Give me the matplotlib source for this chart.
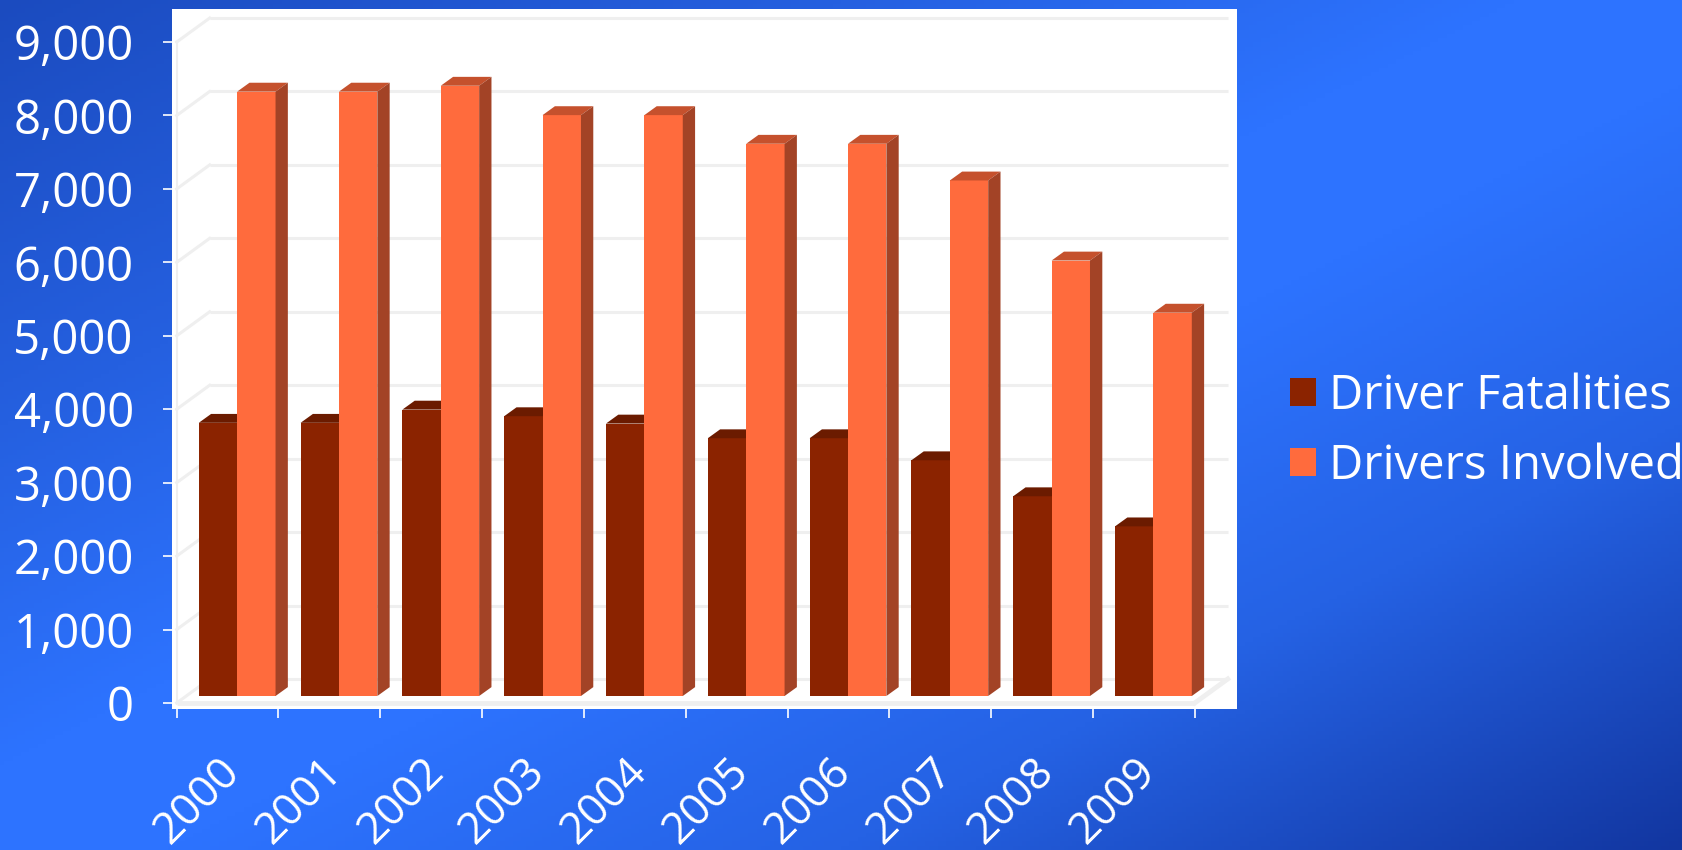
import numpy as np
import matplotlib
matplotlib.use("Agg")
import matplotlib.pyplot as plt
from matplotlib.patches import Polygon, Rectangle
import matplotlib.transforms as mtransforms
from matplotlib.ticker import FuncFormatter, FixedLocator

# ---- data ----
years = ['2000', '2001', '2002', '2003', '2004', '2005', '2006', '2007', '2008', '2009']
driver_fatalities = [3720, 3720, 3900, 3810, 3710, 3510, 3510, 3210, 2720, 2310]
drivers_involved = [8230, 8230, 8310, 7910, 7910, 7520, 7520, 7020, 5930, 5220]
series_names = ['Driver Fatalities', 'Drivers Involved']
y_ticks = [0, 1000, 2000, 3000, 4000, 5000, 6000, 7000, 8000, 9000]

# ---- style ----
plt.rcParams['font.family'] = ['Open Sans', 'DejaVu Sans']
W, H, DPI = 1682, 850, 100
FS = 34
FS_X = 32

dark_front, dark_top = '#8B2300', '#6B1B00'
or_front, or_top, or_side = '#FF6B3D', '#C5512D', '#A34326'
grid_col = '#EFEFEF'

# 3D projection parameters (data units)
DX, DY = 0.324, 327          # full depth of the chart box
BDX, BDY = 0.094, 95         # front plane of the bars
DDX, DDY = 0.121, 121        # depth of a bar
BW = 0.377                   # width of a bar

fig = plt.figure(figsize=(W / DPI, H / DPI), dpi=DPI)

# background gradient
bg = fig.add_axes([0, 0, 1, 1], zorder=-10)
xx, yy = np.meshgrid(np.linspace(0, 1, 400), np.linspace(0, 1, 200))
t = (xx + yy) / 2
stops = [0.0, 0.25, 0.45, 0.55, 0.75, 1.0]
cols = np.array([[0x1b, 0x4b, 0xbf], [0x25, 0x60, 0xe0], [0x2d, 0x73, 0xff],
                 [0x2d, 0x73, 0xff], [0x25, 0x62, 0xe4], [0x12, 0x36, 0xa0]]) / 255.0
img = np.stack([np.interp(t, stops, cols[:, k]) for k in range(3)], axis=-1)
bg.imshow(img, aspect='auto', extent=[0, 1, 0, 1], origin='upper')
bg.set_axis_off()

# main axes (white chart box)
ax = fig.add_axes([172 / W, (H - 709) / H, (1237 - 172) / W, (709 - 9) / H])
ax.set_facecolor('white')
n = len(years)
ax.set_xlim(-0.546, 9.915)
ax.set_ylim(-82, 9450)
for s in ax.spines.values():
    s.set_visible(False)

# walls / gridlines
x_left, x_right = -0.5, n - 0.5
for v in y_ticks:
    ax.plot([x_left + DX, x_right + DX], [v + DY, v + DY], color=grid_col, lw=2.2, zorder=1,
            solid_capstyle='butt')
    ax.plot([x_left, x_left + DX], [v, v + DY], color=grid_col, lw=2.2, zorder=1)
ax.plot([x_left, x_left], [0, y_ticks[-1]], color=grid_col, lw=1.5, zorder=1)
ax.plot([x_left, x_right], [0, 0], color=grid_col, lw=3.5, zorder=1, solid_capstyle='butt')
ax.plot([x_right, x_right + DX], [0, DY], color=grid_col, lw=3.5, zorder=1)

# bars
idx = np.arange(n)
dark_x = idx + BDX - BW
or_x = idx + BDX
ax.bar(dark_x, driver_fatalities, width=BW, bottom=BDY, align='edge', color=dark_front,
       edgecolor='none', zorder=3)
ax.bar(or_x, drivers_involved, width=BW, bottom=BDY, align='edge', color=or_front,
       edgecolor='none', zorder=5)
for i in range(n):
    x0 = dark_x[i]; x1 = x0 + BW; top = BDY + driver_fatalities[i]
    ax.add_patch(Polygon([(x0, top), (x1, top), (x1 + DDX, top + DDY), (x0 + DDX, top + DDY)],
                         closed=True, facecolor=dark_top, edgecolor='none', zorder=3))
    x0 = or_x[i]; x1 = x0 + BW; top = BDY + drivers_involved[i]
    ax.add_patch(Polygon([(x0, top), (x1, top), (x1 + DDX, top + DDY), (x0 + DDX, top + DDY)],
                         closed=True, facecolor=or_top, edgecolor='none', zorder=5))
    ax.add_patch(Polygon([(x1, BDY), (x1, top), (x1 + DDX, top + DDY), (x1 + DDX, BDY + DDY)],
                         closed=True, facecolor=or_side, edgecolor='none', zorder=5))

# y axis ticks
ax.set_yticks(y_ticks)
ax.yaxis.set_major_formatter(FuncFormatter(lambda v, p: f'{int(v):,}'))
ax.tick_params(axis='y', direction='out', length=6.5, width=1.2, color='white',
               labelcolor='white', labelsize=FS, pad=21)

# x axis ticks: marks at category boundaries, labels at centres
ax.xaxis.set_major_locator(FixedLocator(idx))
ax.set_xticklabels(years, rotation=45, ha='right', va='baseline', rotation_mode='anchor')
ax.xaxis.set_minor_locator(FixedLocator(np.arange(n + 1) - 0.5))
ax.tick_params(axis='x', which='major', length=0, labelcolor='white', labelsize=FS_X, pad=46)
ax.tick_params(axis='x', which='minor', direction='out', length=6.5, width=1.2, color='white')
offset = mtransforms.ScaledTranslation(14 / DPI, 0, fig.dpi_scale_trans)
for lab in ax.get_xticklabels():
    lab.set_transform(lab.get_transform() + offset)

# legend
handles = [Rectangle((0, 0), 1, 1, facecolor=dark_front, edgecolor='none'),
           Rectangle((0, 0), 1, 1, facecolor=or_front, edgecolor='none')]
leg = fig.legend(handles, series_names, loc='center left', bbox_to_anchor=(1290 / W, 1 - 431 / H),
                 frameon=False, fontsize=FS, handlelength=0.55, handleheight=0.55,
                 handletextpad=0.28, borderpad=0, borderaxespad=0, labelspacing=0.48)
for txt in leg.get_texts():
    txt.set_color('white')

fig.savefig('out.png', dpi=DPI)
